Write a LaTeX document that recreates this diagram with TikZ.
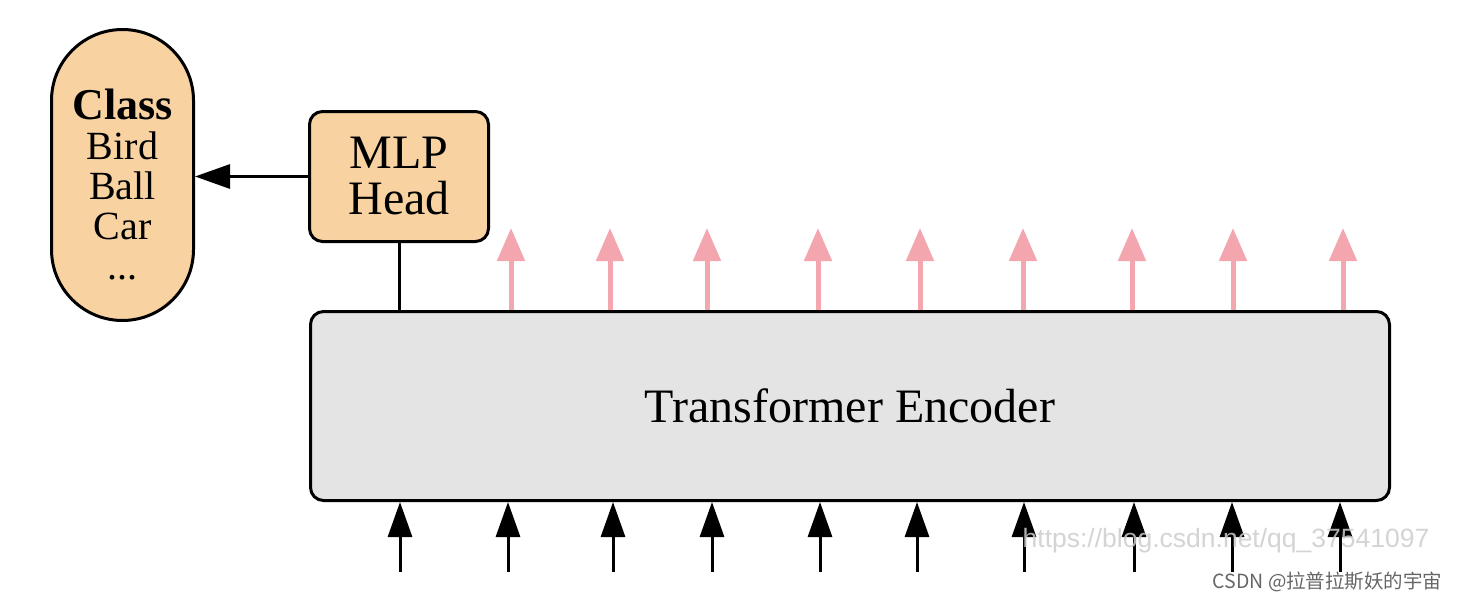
\documentclass[tikz,border=0pt]{standalone}
\usepackage{fontspec}
\setmainfont{Liberation Serif}
\newfontfamily\urlfont{Liberation Sans}
\newfontfamily\cjkfont{Noto Sans CJK SC}
\usetikzlibrary{arrows.meta,backgrounds,positioning}
\definecolor{headorange}{HTML}{F8D3A1}
\definecolor{encgray}{HTML}{E4E4E4}
\definecolor{tokenpink}{HTML}{F4A6AF}
\tikzset{
  classpill/.style={
    draw=black,
    fill=headorange,
    line width=3pt,
    rounded corners=71pt,
    minimum width=142pt,
    minimum height=291pt,
    inner sep=0pt,
    align=center,
    font=\fontsize{40}{40}\selectfont
  },
  headbox/.style={
    draw=black,
    fill=headorange,
    line width=3pt,
    rounded corners=13pt,
    minimum width=179pt,
    minimum height=130pt,
    inner sep=0pt,
    align=center,
    font=\fontsize{48}{46}\selectfont
  },
  encoderbox/.style={
    draw=black,
    fill=encgray,
    line width=3pt,
    rounded corners=13pt,
    minimum width=1079pt,
    minimum height=189pt,
    inner sep=0pt,
    font=\fontsize{48}{48}\selectfont
  },
  inarrow/.style={
    -{Triangle[length=35pt,width=24pt]},
    line width=3pt,
    draw=black
  },
  outarrow/.style={
    -{Triangle[length=33pt,width=27pt]},
    line width=5pt,
    draw=tokenpink,
    fill=tokenpink
  }
}

\begin{document}
\begin{tikzpicture}[x=1pt,y=-1pt]
    \useasboundingbox (0,0) rectangle (1460,602);

    \node[encoderbox] (encoder) at (850,406) {Transformer Encoder};
    \node[headbox] (mlphead) at (399,176.5) {MLP\\Head};
    \node[classpill] (classes) at (122.5,175) {
        \rule{0pt}{50pt}{\fontsize{44}{40}\selectfont\bfseries Class}\\
        Bird\\
        Ball\\
        Car\\
        ...
    };

    \draw[inarrow] (mlphead.west) -- (mlphead.west -| classes.east);
    \draw[line width=3pt] (mlphead.south) -- (mlphead.south |- encoder.north);

    \begin{scope}[on background layer]
        \foreach \x [count=\i] in {511,610,707,818,920,1023,1132,1233,1343} {
            \coordinate (out\i) at (\x,228);
            \draw[outarrow] (out\i |- encoder.center) -- (out\i);
        }
    \end{scope}

    \foreach \x [count=\i] in {400,508,613,712,820,917,1024,1134,1232,1340} {
        \coordinate (in\i) at (\x,572);
        \draw[inarrow] (in\i) -- (in\i |- encoder.south);
    }

    \node[font=\urlfont\fontsize{26.5}{26.5}\selectfont, text=black!20, text opacity=0.85] (wmurl) at (1226,541) {https://blog.csdn.net/qq\_37541097};
    \node[font=\cjkfont\fontsize{19.5}{19.5}\selectfont, text=black!60, anchor=east] (wmname) at (1446,582) {CSDN @拉普拉斯妖的宇宙};
\end{tikzpicture}
\end{document}
